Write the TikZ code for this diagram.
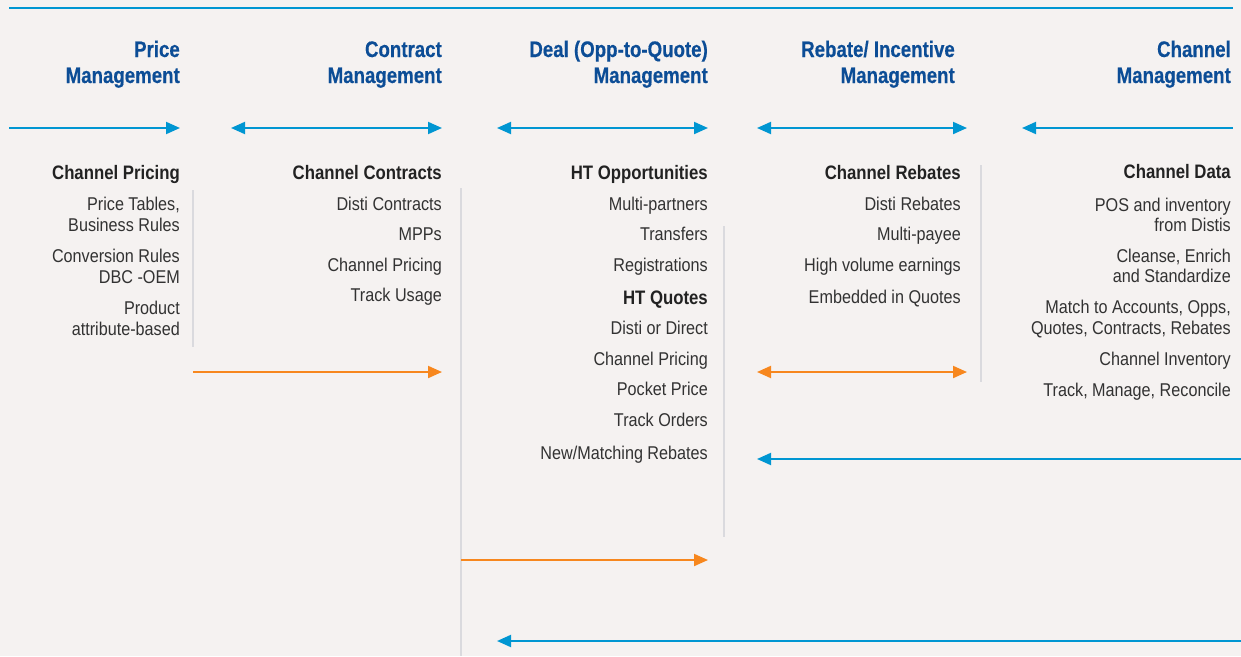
\documentclass[tikz,border=0pt]{standalone}
\usepackage{fontspec}
\setmainfont{Liberation Sans}[FakeStretch=0.875]
\newfontfamily\subfont{Liberation Sans}[FakeStretch=0.86]
\newfontfamily\titlefont{Liberation Sans}[FakeStretch=0.83, BoldFeatures={FakeBold=0.4}]
\usetikzlibrary{arrows.meta}
\definecolor{pagebg}{RGB}{245,242,241}
\definecolor{headblue}{RGB}{12,77,150}
\definecolor{flowblue}{RGB}{0,150,210}
\definecolor{floworange}{RGB}{247,135,30}
\definecolor{rulegray}{RGB}{218,218,222}
\definecolor{bodytext}{RGB}{50,50,50}
\definecolor{subtext}{RGB}{34,34,34}

\tikzset{
  head/.style={anchor=base east, inner sep=0pt, text=headblue,
    font=\titlefont\fontsize{22.5}{26}\selectfont\bfseries},
  subhead/.style={anchor=base east, inner sep=0pt, text=subtext,
    font=\subfont\fontsize{19.5}{22}\selectfont\bfseries},
  item/.style={anchor=base east, inner sep=0pt, text=bodytext,
    font=\fontsize{18.5}{21}\selectfont},
  flow/.style={line width=2pt, draw=flowblue},
  hand/.style={line width=2pt, draw=floworange},
  divider/.style={line width=1.6pt, draw=rulegray},
  tipR/.style={-{Triangle[length=14pt,width=12pt]}},
  tipL/.style={{Triangle[length=14pt,width=12pt]}-},
  tipLR/.style={{Triangle[length=14pt,width=12pt]}-{Triangle[length=14pt,width=12pt]}}
}

\begin{document}
\begin{tikzpicture}[x=1pt,y=-1pt]
  \fill[pagebg] (0,0) rectangle (1241,656);
  \useasboundingbox (0,0) rectangle (1241,656);

  % top rule
  \coordinate (topL) at (9,8);
  \coordinate (topR) at (1233,8);
  \draw[flow] (topL) -- (topR);

  % column headings
  \node[head] (h1a) at (180,57) {Price};
  \node[head] (h1b) at (180,83) {Management};
  \node[head] (h2a) at (442,57) {Contract};
  \node[head] (h2b) at (442,83) {Management};
  \node[head] (h3a) at (708,57) {Deal (Opp-to-Quote)};
  \node[head] (h3b) at (708,83) {Management};
  \node[head] (h4a) at (955,57) {Rebate/ Incentive};
  \node[head] (h4b) at (955,83) {Management};
  \node[head] (h5a) at (1231,57) {Channel};
  \node[head] (h5b) at (1231,83) {Management};

  % heading arrows
  \coordinate (a1s) at (9,128);    \coordinate (a1e) at (180,128);
  \coordinate (a2s) at (231,128);  \coordinate (a2e) at (442,128);
  \coordinate (a3s) at (497,128);  \coordinate (a3e) at (708,128);
  \coordinate (a4s) at (757,128);  \coordinate (a4e) at (967,128);
  \coordinate (a5s) at (1022,128); \coordinate (a5e) at (1233,128);
  \draw[flow, tipR] (a1s) -- (a1e);
  \draw[flow, tipLR] (a2s) -- (a2e);
  \draw[flow, tipLR] (a3s) -- (a3e);
  \draw[flow, tipLR] (a4s) -- (a4e);
  \draw[flow, tipL] (a5s) -- (a5e);

  % column dividers
  \coordinate (d1t) at (193,190); \coordinate (d1b) at (193,347);
  \coordinate (d2t) at (461,188); \coordinate (d2b) at (461,656);
  \coordinate (d3t) at (724,226); \coordinate (d3b) at (724,537);
  \coordinate (d4t) at (981,165); \coordinate (d4b) at (981,382);
  \draw[divider] (d1t) -- (d1b);
  \draw[divider] (d2t) -- (d2b);
  \draw[divider] (d3t) -- (d3b);
  \draw[divider] (d4t) -- (d4b);

  % Price Management
  \node[subhead] (c1h) at (180,179) {Channel Pricing};
  \node[item] (c1i1) at (180,210.5) {Price Tables,};
  \node[item] (c1i2) at (180,231.5) {Business Rules};
  \node[item] (c1i3) at (180,262) {Conversion Rules};
  \node[item] (c1i4) at (180,283) {DBC -OEM};
  \node[item] (c1i5) at (180,314) {Product};
  \node[item] (c1i6) at (180,335) {attribute-based};

  % Contract Management
  \node[subhead] (c2h) at (442,179) {Channel Contracts};
  \node[item] (c2i1) at (442,210.5) {Disti Contracts};
  \node[item] (c2i2) at (442,240.5) {MPPs};
  \node[item] (c2i3) at (442,271.5) {Channel Pricing};
  \node[item] (c2i4) at (442,301.5) {Track Usage};

  % Deal Management
  \node[subhead] (c3h) at (708,179) {HT Opportunities};
  \node[item] (c3i1) at (708,210.5) {Multi-partners};
  \node[item] (c3i2) at (708,240.5) {Transfers};
  \node[item] (c3i3) at (708,271) {Registrations};
  \node[subhead] (c3q) at (708,304) {HT Quotes};
  \node[item] (c3i4) at (708,334.5) {Disti or Direct};
  \node[item] (c3i5) at (708,365) {Channel Pricing};
  \node[item] (c3i6) at (708,395.5) {Pocket Price};
  \node[item] (c3i7) at (708,426) {Track Orders};
  \node[item] (c3i8) at (708,459) {New/Matching Rebates};

  % Rebate / Incentive Management
  \node[subhead] (c4h) at (961,179) {Channel Rebates};
  \node[item] (c4i1) at (961,210.5) {Disti Rebates};
  \node[item] (c4i2) at (961,240.5) {Multi-payee};
  \node[item] (c4i3) at (961,271) {High volume earnings};
  \node[item] (c4i4) at (961,303.5) {Embedded in Quotes};

  % Channel Management
  \node[subhead] (c5h) at (1231,178.5) {Channel Data};
  \node[item] (c5i1) at (1231,211) {POS and inventory};
  \node[item] (c5i2) at (1231,231.5) {from Distis};
  \node[item] (c5i3) at (1231,262) {Cleanse, Enrich};
  \node[item] (c5i4) at (1231,282.5) {and Standardize};
  \node[item] (c5i5) at (1231,313.5) {Match to Accounts, Opps,};
  \node[item] (c5i6) at (1231,334.5) {Quotes, Contracts, Rebates};
  \node[item] (c5i7) at (1231,365) {Channel Inventory};
  \node[item] (c5i8) at (1231,396) {Track, Manage, Reconcile};

  % hand-off arrows
  \coordinate (o1s) at (193,372);  \coordinate (o1e) at (442,372);
  \coordinate (o2s) at (757,372);  \coordinate (o2e) at (967,372);
  \coordinate (o3s) at (461,560);  \coordinate (o3e) at (708,560);
  \draw[hand, tipR] (o1s) -- (o1e);
  \draw[hand, tipLR] (o2s) -- (o2e);
  \draw[hand, tipR] (o3s) -- (o3e);

  % feedback arrows from channel data
  \coordinate (b1s) at (1241,459); \coordinate (b1e) at (757,459);
  \coordinate (b2s) at (1241,641); \coordinate (b2e) at (497,641);
  \draw[flow, tipR] (b1s) -- (b1e);
  \draw[flow, tipR] (b2s) -- (b2e);
\end{tikzpicture}
\end{document}
